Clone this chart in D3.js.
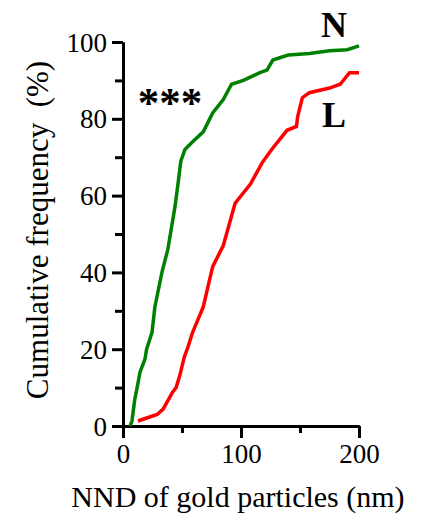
<!DOCTYPE html>
<html>
<head>
<meta charset="utf-8">
<script src="https://cdn.jsdelivr.net/npm/d3@7"></script>
<style>
  body { margin: 0; background: #fff; }
  svg { display: block; }
  svg text { font-family: "Liberation Serif", "Times New Roman", Times, "DejaVu Serif", serif; }
</style>
</head>
<body>
<svg></svg>
<script>
const svgWidth = 423,
  svgHeight = 519,
  margin = {top: 42, right: 64, bottom: 93, left: 123},
  lineWidth = 3.5,
  axisWidth = 3,
  serif = '"Liberation Serif", "Times New Roman", Times, "DejaVu Serif", serif'

// N (green) cumulative distribution
const nX = [6, 7.6, 10, 12, 14.4, 18.6, 20, 24.6, 27, 33, 38, 44, 47, 49, 52.5, 59, 68, 76, 85, 92, 102, 116, 122, 127, 140, 158, 175, 190, 200]
const nY = [0, 1.3, 7, 10, 14, 17.4, 20, 24.4, 31, 40, 46, 57, 64, 69, 72, 74, 76.6, 81.5, 85, 89, 90, 92, 92.7, 95.3, 96.6, 97, 97.7, 98, 99]

// L (red) cumulative distribution
const lX = [12.7, 25, 29, 34, 42, 45, 48, 52, 55, 59, 68, 76, 85, 95, 108, 118, 126, 139, 147, 148, 152, 158, 175, 184, 192, 200]
const lY = [1.3, 2.6, 3, 4.4, 8.8, 10, 13, 18, 20.5, 24.4, 31, 41.5, 47, 58, 63, 68.6, 72, 77, 78, 80.5, 85.5, 86.8, 88, 89, 92, 92]

const xMajor = [0, 100, 200]
const xMinor = [50, 150]
const yMajor = [0, 20, 40, 60, 80, 100]
const yMinor = [10, 30, 50, 70, 90]

const svg = d3.select("svg")
  .attr("width", svgWidth)
  .attr("height", svgHeight)

const x = d3.scaleLinear().domain([0, 200]).range([margin.left, svgWidth - margin.right])
const y = d3.scaleLinear().domain([0, 100]).range([svgHeight - margin.bottom, margin.top])

function styleAxis(g) {
  g.select(".domain").attr("stroke", "#000").attr("stroke-width", axisWidth)
  g.selectAll(".tick line").attr("stroke", "#000").attr("stroke-width", axisWidth)
  g.selectAll(".tick text").attr("font-size", 27).attr("fill", "#000")
    .attr("font-family", serif)
}

// y axis
svg.append("g")
  .attr("transform", `translate(${x(0)},0)`)
  .call(d3.axisLeft(y).tickValues(yMinor).tickSize(8).tickSizeOuter(0).tickFormat(""))
  .call(styleAxis)
svg.append("g")
  .attr("transform", `translate(${x(0)},0)`)
  .call(d3.axisLeft(y).tickValues(yMajor).tickSize(11).tickSizeOuter(0).tickPadding(5))
  .call(styleAxis)
  .call(g => g.selectAll(".tick text").attr("dy", "0.34em"))

// x axis
svg.append("g")
  .attr("transform", `translate(0,${y(0)})`)
  .call(d3.axisBottom(x).tickValues(xMinor).tickSize(7).tickSizeOuter(0).tickFormat(""))
  .call(styleAxis)
svg.append("g")
  .attr("transform", `translate(0,${y(0)})`)
  .call(d3.axisBottom(x).tickValues(xMajor).tickSize(12).tickSizeOuter(0).tickPadding(6))
  .call(styleAxis)

// curves
const line = d3.line().x(d => x(d[0])).y(d => y(d[1]))

svg.append("path")
  .datum(d3.zip(lX, lY))
  .attr("fill", "none")
  .attr("stroke", "#ff0000")
  .attr("stroke-width", lineWidth)
  .attr("d", line)

svg.append("path")
  .datum(d3.zip(nX, nY))
  .attr("fill", "none")
  .attr("stroke", "#008000")
  .attr("stroke-width", lineWidth)
  .attr("d", line)

// labels
svg.append("text")
  .attr("x", 334).attr("y", 37)
  .attr("text-anchor", "middle")
  .attr("font-family", serif)
  .attr("font-size", 36).attr("font-weight", "bold")
  .text("N")

svg.append("text")
  .attr("x", 334).attr("y", 127)
  .attr("text-anchor", "middle")
  .attr("font-family", serif)
  .attr("font-size", 36).attr("font-weight", "bold")
  .text("L")

svg.append("text")
  .attr("x", 170).attr("y", 117)
  .attr("text-anchor", "middle")
  .attr("font-family", serif)
  .attr("font-size", 43).attr("font-weight", "bold")
  .text("***")

// axis titles
svg.append("text")
  .attr("x", 238).attr("y", 507)
  .attr("text-anchor", "middle")
  .attr("font-family", serif)
  .attr("font-size", 30)
  .text("NND of gold particles (nm)")

svg.append("text")
  .attr("transform", `translate(48,230) rotate(-90)`)
  .attr("text-anchor", "middle")
  .attr("font-family", serif)
  .attr("font-size", 31)
  .attr("xml:space", "preserve")
  .text("Cumulative frequency  (%)")
</script>
</body>
</html>
